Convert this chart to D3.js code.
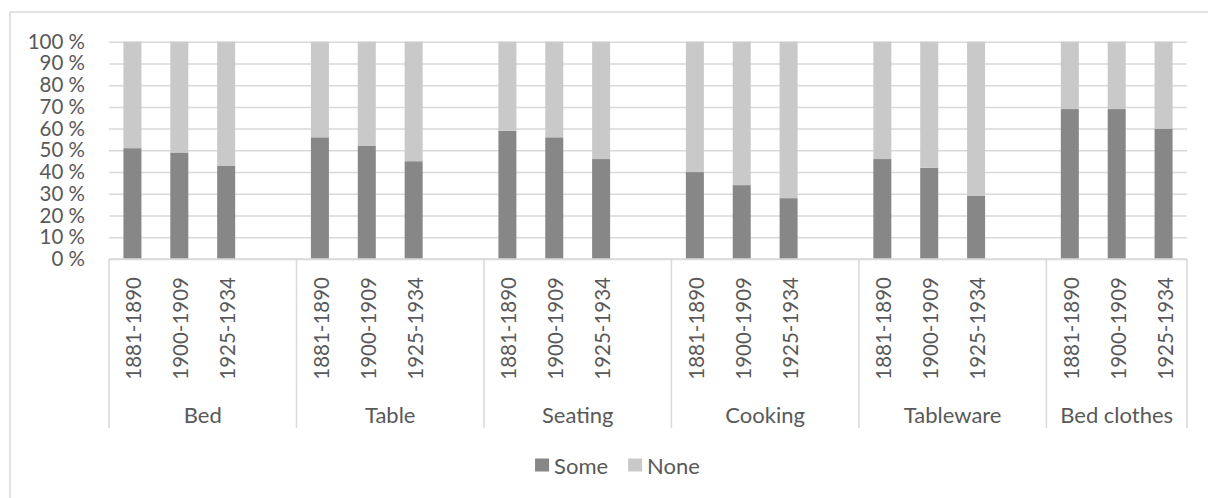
<!DOCTYPE html>
<html>
<head>
<meta charset="utf-8">
<script src="https://cdn.jsdelivr.net/npm/d3@7"></script>
<style>
  body { margin: 0; background: #fff; }
  svg { display: block; }
  text { font-family: Lato, "Noto Sans", sans-serif; fill: #595959; }
</style>
</head>
<body>
<svg id="chart" width="1208" height="498"></svg>
<script>
// Share of households with some / no item of each kind, by period (percent)
const groups  = ["Bed", "Table", "Seating", "Cooking", "Tableware", "Bed clothes"];
const periods = ["1881-1890", "1900-1909", "1925-1934"];
const someShare = [51, 49, 43,  56, 52, 45,  59, 56, 46,  40, 34, 28,  46, 42, 29,  69, 69, 60];
const noneShare = [49, 51, 57,  44, 48, 55,  41, 44, 54,  60, 66, 72,  54, 58, 71,  31, 31, 40];
const seriesNames = ["Some", "None"];
const seriesColors = ["#878787", "#c9c9c9"];
const yTickValues = [0, 10, 20, 30, 40, 50, 60, 70, 80, 90, 100];

const frame = { x: 10, y: 12, w: 1215, h: 520 };
const plot = { left: 109, right: 1187, top: 41.7, bottom: 259 };
const axisColor = "#d9d9d9";
const numFont = 20.5, wordFont = 22;

const svg = d3.select("#chart");

// chart area border
svg.append("rect")
  .attr("x", frame.x).attr("y", frame.y)
  .attr("width", frame.w).attr("height", frame.h)
  .attr("fill", "#fff").attr("stroke", axisColor).attr("stroke-width", 1.5);

// one slot per period, plus a blank slot between groups
const slots = [];
groups.forEach((g, gi) => {
  periods.forEach(p => slots.push(g + "|" + p));
  if (gi < groups.length - 1) slots.push(g + "|");
});

const rows = [];
groups.forEach((g, gi) => {
  periods.forEach((p, pi) => {
    const k = gi * periods.length + pi;
    rows.push({ key: g + "|" + p, group: g, period: p, Some: someShare[k], None: noneShare[k] });
  });
});

const x = d3.scaleBand()
  .domain(slots)
  .range([plot.left, plot.right])
  .paddingInner(0.616)
  .paddingOuter(0.308);

const y = d3.scaleLinear().domain([0, 100]).range([plot.bottom, plot.top]);

// horizontal gridlines
svg.append("g")
  .attr("transform", `translate(${plot.left},0)`)
  .call(d3.axisLeft(y).tickValues(yTickValues).tickSize(-(plot.right - plot.left)).tickFormat(""))
  .call(g => g.select(".domain").remove())
  .call(g => g.selectAll("line").attr("stroke", axisColor).attr("stroke-width", 1.5));

// value axis labels
svg.append("g")
  .attr("transform", `translate(${plot.left},0)`)
  .call(d3.axisLeft(y).tickValues(yTickValues).tickSize(0).tickPadding(24).tickFormat(d => d + " %"))
  .call(g => g.select(".domain").remove())
  .call(g => g.selectAll("text")
    .attr("font-size", numFont)
    .attr("fill", "#595959")
    .style("font-family", "Lato, 'Noto Sans', sans-serif"));

// stacked bars
const stacked = d3.stack().keys(seriesNames)(rows);
svg.append("g").selectAll("g")
  .data(stacked)
  .join("g")
  .attr("fill", (d, i) => seriesColors[i])
  .selectAll("rect")
  .data(d => d)
  .join("rect")
  .attr("x", d => x(d.data.key))
  .attr("width", x.bandwidth())
  .attr("y", d => y(d[1]))
  .attr("height", d => y(d[0]) - y(d[1]));

// category axis: baseline, group separators and labels
const axisG = svg.append("g");
axisG.append("line")
  .attr("x1", plot.left).attr("x2", plot.right)
  .attr("y1", plot.bottom).attr("y2", plot.bottom)
  .attr("stroke", axisColor).attr("stroke-width", 1.5);

const step = x.step();
const groupBounds = [];
let idx = 0;
groups.forEach((g, gi) => {
  const n = periods.length + (gi < groups.length - 1 ? 1 : 0);
  const x0 = plot.left + idx * step;
  const x1 = plot.left + (idx + n) * step;
  groupBounds.push({ group: g, x0, x1: gi === groups.length - 1 ? plot.right : x1 });
  idx += n;
});

const sepX = [plot.left].concat(groupBounds.map(b => b.x1));
axisG.selectAll("line.sep")
  .data(sepX)
  .join("line")
  .attr("class", "sep")
  .attr("x1", d => d).attr("x2", d => d)
  .attr("y1", plot.bottom).attr("y2", 428)
  .attr("stroke", axisColor).attr("stroke-width", 1.5);

axisG.selectAll("text.period")
  .data(rows)
  .join("text")
  .attr("class", "period")
  .attr("transform", d => `translate(${x(d.key) + x.bandwidth() / 2 + 1},277) rotate(-90)`)
  .attr("text-anchor", "end")
  .attr("dominant-baseline", "central")
  .attr("font-size", numFont)
  .text(d => d.period);

axisG.selectAll("text.group")
  .data(groupBounds)
  .join("text")
  .attr("class", "group")
  .attr("x", d => (d.x0 + d.x1) / 2)
  .attr("y", 414)
  .attr("text-anchor", "middle")
  .attr("dominant-baseline", "central")
  .attr("font-size", wordFont)
  .text(d => d.group);

// legend
const legend = svg.append("g");
const items = legend.selectAll("g")
  .data(seriesNames)
  .join("g");
items.append("rect")
  .attr("width", 14).attr("height", 13)
  .attr("y", -6.5)
  .attr("fill", (d, i) => seriesColors[i]);
items.append("text")
  .attr("x", 19)
  .attr("dominant-baseline", "central")
  .attr("font-size", wordFont)
  .text(d => d);
let lx = 0;
items.each(function () {
  const w = 19 + this.querySelector("text").getComputedTextLength();
  d3.select(this).attr("transform", `translate(${lx},0)`);
  lx += w + 20;
});
const legendWidth = lx - 20;
legend.attr("transform", `translate(${frame.x + frame.w / 2 - legendWidth / 2},465)`);
</script>
</body>
</html>
